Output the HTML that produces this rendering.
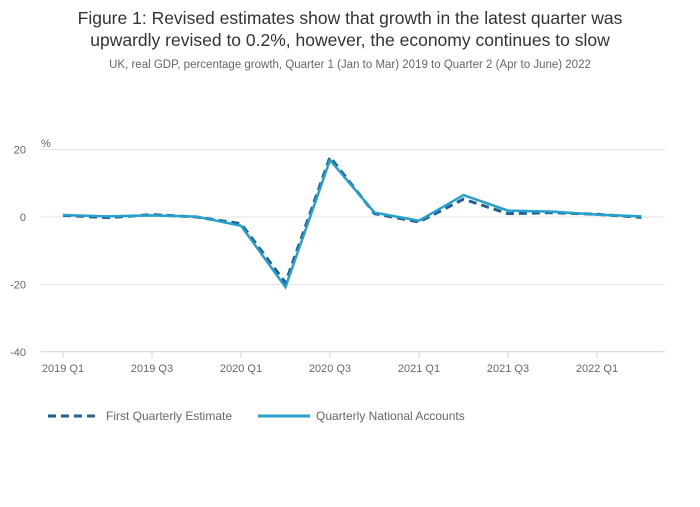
<!DOCTYPE html>
<html><head><meta charset="utf-8"><style>
body{margin:0;background:#fff;font-family:"Liberation Sans",sans-serif;}
svg text{font-family:"Liberation Sans",sans-serif;}
</style></head><body>
<svg width="700" height="502" xmlns="http://www.w3.org/2000/svg">
<text x="350" y="24" text-anchor="middle" font-size="17.5" fill="#333">Figure 1: Revised estimates show that growth in the latest quarter was</text>
<text x="350" y="46" text-anchor="middle" font-size="17.5" fill="#333">upwardly revised to 0.2%, however, the economy continues to slow</text>
<text x="350" y="68" text-anchor="middle" font-size="11.5" fill="#666">UK, real GDP, percentage growth, Quarter 1 (Jan to Mar) 2019 to Quarter 2 (Apr to June) 2022</text>
<text x="41" y="147" font-size="11" fill="#666">%</text>
<g id="grid"></g><g id="xaxis"></g><g id="series"></g>
<g>
<line x1="48" y1="416" x2="100" y2="416" stroke="#206095" stroke-width="3" stroke-dasharray="8,5"/>
<text x="106" y="420" font-size="12" fill="#666">First Quarterly Estimate</text>
<line x1="258" y1="416" x2="310" y2="416" stroke="#27a0cc" stroke-width="3"/>
<text x="316" y="420" font-size="12" fill="#666">Quarterly National Accounts</text>
</g>
</svg>
<script>
const categories=["2019 Q1","2019 Q2","2019 Q3","2019 Q4","2020 Q1","2020 Q2","2020 Q3","2020 Q4","2021 Q1","2021 Q2","2021 Q3","2021 Q4","2022 Q1","2022 Q2"];
const fqe=[0.5,-0.2,0.7,0.0,-2.0,-19.5,17.8,1.0,-1.5,5.3,1.0,1.3,0.8,-0.1];
const qna=[0.6,0.2,0.5,0.1,-2.6,-20.8,16.9,1.3,-1.1,6.5,1.9,1.6,0.7,0.2];
const yTicks=[20,0,-20,-40];
const NS="http://www.w3.org/2000/svg";
const x=i=>63+i*44.5;
const y=v=>217-v*3.37;
function mk(t,a,p){const e=document.createElementNS(NS,t);for(const k in a)e.setAttribute(k,a[k]);p.appendChild(e);return e;}
const grid=document.getElementById('grid');
yTicks.forEach(v=>{
 const l=mk('line',{x1:41,x2:665,y1:y(v),y2:y(v),stroke:v===-40?'#c8d4e6':'#e2e2e2','stroke-width':1},grid);
 
 
 const t=mk('text',{x:26,y:y(v)+4,'text-anchor':'end','font-size':11,fill:'#666'},grid);t.textContent=v;
 
 
});
const xa=document.getElementById('xaxis');
categories.forEach((c,i)=>{
 if(i%2)return;
 const tk=mk('line',{x1:x(i),x2:x(i),y1:352,y2:358,stroke:'#c8d4e6'},xa);
 
 
 const t=mk('text',{x:x(i),y:372,'text-anchor':'middle','font-size':11,fill:'#666'},xa);t.textContent=c;
 
 
});
const s=document.getElementById('series');
const p1=mk('polyline',{points:fqe.map((v,i)=>x(i)+','+y(v)).join(' '),fill:'none',stroke:'#206095','stroke-width':3,'stroke-dasharray':'8,5'},s);


const p2=mk('polyline',{points:qna.map((v,i)=>x(i)+','+y(v)).join(' '),fill:'none',stroke:'#27a0cc','stroke-width':2.5},s);


</script>
</body></html>
